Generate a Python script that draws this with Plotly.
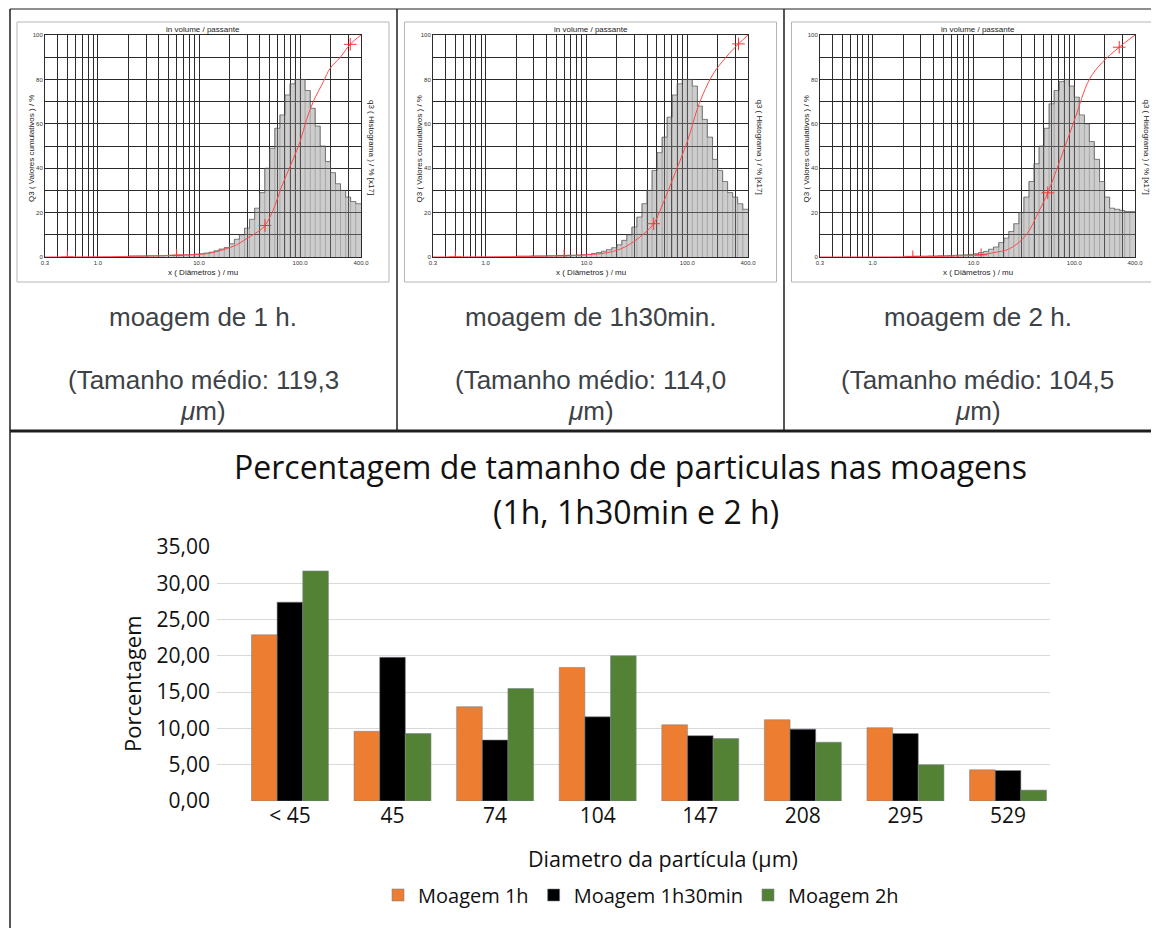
import plotly.graph_objects as go

W, H = 1159, 928
PAGE_OFF = 8            # the page body margin shifts the figure by 8 px
FW, FH = W - PAGE_OFF, H - PAGE_OFF

# ---------------- data: top particle-size panels ----------------
GRID_X = [0.3, 0.4, 0.5, 0.6, 0.7, 0.8, 0.9, 1, 2, 3, 4, 5, 6, 7, 8, 9,
          10, 20, 30, 40, 50, 60, 70, 80, 90, 100, 200, 300, 400]
X_TICK_LABELS = {0.3: "0.3", 1: "1.0", 10: "10.0", 100: "100.0", 400: "400.0"}
GRID_Y = [0, 10, 20, 30, 40, 50, 60, 70, 80, 90, 100]
Y_TICK_LABELS = {0: "0", 20: "20", 40: "40", 60: "60", 80: "80", 100: "100"}

BIN_EDGES = [2.0, 2.24, 2.51, 2.82, 3.16, 3.55, 3.98, 4.47, 5.01, 5.62, 6.31, 7.08,
             7.94, 8.91, 10.0, 11.2, 12.6, 14.1, 15.8, 17.8, 20.0, 22.4, 25.1, 28.2,
             31.6, 35.5, 39.8, 44.7, 50.1, 56.2, 63.1, 70.8, 79.4, 89.1, 100, 112,
             126, 141, 158, 178, 200, 224, 251, 282, 316, 355, 400]

HIST_1H = [0.5, 0.5, 0.5, 0.5, 0.6, 0.6, 0.6, 0.7, 0.7, 0.8, 0.9, 1.0, 1.1, 1.3,
           1.5, 1.8, 2.2, 2.8, 3.6, 4.3, 6.0, 8.0, 10.0, 13.0, 17.0, 22.0, 29.0, 40.0,
           49.0, 58.0, 64.0, 73.0, 78.0, 80.0, 80.0, 75.0, 67.0, 59.0, 50.0, 43.0,
           38.0, 33.0, 30.0, 27.0, 25.0, 24.0]
HIST_1H30 = [0.4, 0.4, 0.4, 0.5, 0.5, 0.5, 0.6, 0.6, 0.7, 0.7, 0.8, 0.8, 0.9, 1.0,
             1.2, 1.6, 2.0, 2.6, 3.3, 4.2, 5.5, 7.5, 10.0, 13.5, 18.0, 24.0, 30.0, 39.0,
             47.0, 54.0, 63.0, 73.0, 78.0, 80.0, 80.0, 77.0, 68.0, 62.0, 54.0, 44.0,
             39.0, 34.0, 29.0, 27.0, 24.0, 21.5]
HIST_2H = [0.3, 0.3, 0.4, 0.4, 0.4, 0.5, 0.5, 0.6, 0.6, 0.7, 0.8, 0.9, 1.0, 1.2,
           1.5, 2.0, 2.5, 3.5, 4.5, 6.5, 8.5, 11.5, 15.0, 20.0, 27.0, 34.0, 42.0, 50.0,
           58.0, 69.0, 75.0, 79.0, 80.0, 77.0, 72.0, 64.0, 60.0, 52.0, 44.0, 34.0,
           27.0, 22.0, 21.5, 21.0, 20.5, 20.5]

CUM_1H_X = [0.3, 1.0, 3.0, 6.0, 10, 13, 17.5, 23.6, 30, 40, 45, 54, 66, 80, 100, 116,
            135, 170, 198, 250, 313, 400]
CUM_1H_Y = [0, 0.1, 0.4, 0.8, 1.2, 1.8, 3.3, 5.5, 8.5, 12, 14.2, 21, 32, 41, 52, 62,
            70, 79, 85, 90, 95.8, 100]
CUM_1H30_X = [0.3, 1.0, 3.0, 6.0, 10, 16.4, 24, 35.4, 46.4, 56, 76, 100, 131, 178,
              242, 322, 400]
CUM_1H30_Y = [0, 0.1, 0.3, 0.6, 1.0, 2.0, 4.5, 9.7, 15, 23, 38, 52, 69, 82, 90, 96, 100]
CUM_2H_X = [0.3, 2.5, 6.0, 11.9, 16, 22.7, 33, 45, 54.5, 71, 100, 141, 190, 279, 400]
CUM_2H_Y = [0, 0.1, 0.4, 1.0, 2.0, 3.7, 9.7, 21, 28.9, 42.7, 61.5, 80, 87.7, 94.5, 100]

MARK_1H_X = [0.5, 6.0, 45, 313]
MARK_1H_Y = [0, 0.8, 14.2, 95.8]
MARK_1H30_X = [0.5, 6.0, 46.4, 322]
MARK_1H30_Y = [0, 0.6, 15, 96]
MARK_2H_X = [2.5, 11.9, 54.5, 279]
MARK_2H_Y = [0.1, 1.0, 28.9, 94.5]

CAPTIONS = [("moagem de 1 h.", "(Tamanho médio: 119,3"),
            ("moagem de 1h30min.", "(Tamanho médio: 114,0"),
            ("moagem de 2 h.", "(Tamanho médio: 104,5")]

# ---------------- data: bottom bar chart ----------------
CATEGORIES = ["< 45", "45", "74", "104", "147", "208", "295", "529"]
MOAGEM_1H = [22.9, 9.6, 13.0, 18.4, 10.5, 11.2, 10.1, 4.3]
MOAGEM_1H30 = [27.4, 19.8, 8.4, 11.6, 9.0, 9.9, 9.3, 4.2]
MOAGEM_2H = [31.7, 9.3, 15.5, 20.0, 8.6, 8.1, 5.0, 1.5]
BAR_Y_TICKS = [0, 5, 10, 15, 20, 25, 30, 35]


def fx(px):
    return (px - PAGE_OFF) / FW


def fy(py):
    return 1 - (py - PAGE_OFF) / FH


fig = go.Figure()

panels = [
    (HIST_1H, CUM_1H_X, CUM_1H_Y, MARK_1H_X, MARK_1H_Y),
    (HIST_1H30, CUM_1H30_X, CUM_1H30_Y, MARK_1H30_X, MARK_1H30_Y),
    (HIST_2H, CUM_2H_X, CUM_2H_Y, MARK_2H_X, MARK_2H_Y),
]
plot_left = [45, 433, 820]
plot_right = [361, 748, 1135]
offsets = [0, 387.5, 774.5]

shapes = []
annotations = []
font_small = "Liberation Sans, Arial, sans-serif"

for i, (hist, cx, cy, mx, my) in enumerate(panels):
    k = i + 1
    xa = "x" if k == 1 else f"x{k}"
    ya = "y" if k == 1 else f"y{k}"
    # histogram as step outline filled to zero
    fig.add_trace(go.Scatter(
        x=BIN_EDGES, y=hist + [hist[-1]], mode="lines", line_shape="hv",
        fill="tozeroy", fillcolor="rgba(135,135,135,0.42)",
        line=dict(color="rgba(70,70,70,0.8)", width=0.8),
        xaxis=xa, yaxis=ya, showlegend=False, hoverinfo="skip"))
    # bar separators
    sx, sy = [], []
    for j in range(1, len(hist)):
        sx += [BIN_EDGES[j], BIN_EDGES[j], None]
        sy += [0, max(hist[j - 1], hist[j]), None]
    fig.add_trace(go.Scatter(
        x=sx, y=sy, mode="lines", line=dict(color="rgba(90,90,90,0.55)", width=0.6),
        xaxis=xa, yaxis=ya, showlegend=False, hoverinfo="skip"))
    # cumulative curve
    fig.add_trace(go.Scatter(
        x=cx, y=cy, mode="lines", line=dict(color="#ff4a4a", width=1, shape="spline"),
        xaxis=xa, yaxis=ya, showlegend=False, hoverinfo="skip"))
    fig.add_trace(go.Scatter(
        x=mx, y=my, mode="markers",
        marker=dict(symbol="cross-thin", size=9, line=dict(color="#ff3030", width=1)),
        xaxis=xa, yaxis=ya, showlegend=False, hoverinfo="skip"))

    axis_common = dict(showgrid=True, gridcolor="#2b2b2b", gridwidth=1,
                       showline=True, linecolor="#2b2b2b", linewidth=1, mirror=True,
                       zeroline=False, ticks="", automargin=False,
                       tickfont=dict(family=font_small, size=6, color="#333"))
    fig.update_layout(**{
        ("xaxis" if k == 1 else f"xaxis{k}"): dict(
            type="log", range=[-0.5229, 2.6021],
            domain=[fx(plot_left[i]), fx(plot_right[i])],
            tickvals=GRID_X, ticktext=[X_TICK_LABELS.get(v, "") for v in GRID_X],
            anchor=ya, **axis_common),
        ("yaxis" if k == 1 else f"yaxis{k}"): dict(
            range=[0, 100], domain=[fy(257), fy(35)],
            tickvals=GRID_Y, ticktext=[Y_TICK_LABELS.get(v, "") for v in GRID_Y],
            anchor=xa, **axis_common),
    })

    dx = offsets[i]
    # chart frame
    shapes.append(dict(type="rect", xref="paper", yref="paper",
                       x0=fx(17 + dx), x1=fx(389 + dx), y0=fy(282), y1=fy(22),
                       line=dict(color="#b5b5b5", width=1), layer="below"))
    small = dict(family=font_small, size=8, color="#222")
    annotations += [
        dict(text="in volume / passante", x=fx(203 + dx), y=fy(29), xref="paper", yref="paper",
             showarrow=False, font=small, xanchor="center", yanchor="middle"),
        dict(text="x ( Diâmetros ) / mu", x=fx(203 + dx), y=fy(272), xref="paper", yref="paper",
             showarrow=False, font=small, xanchor="center", yanchor="middle"),
        dict(text="Q3 ( Valores cumulativos ) / %", x=fx(32 + dx), y=fy(149), xref="paper",
             yref="paper", showarrow=False, font=small, textangle=-90,
             xanchor="center", yanchor="middle"),
        dict(text="q3 ( Histograma ) / % [x17]", x=fx(371 + dx), y=fy(147), xref="paper",
             yref="paper", showarrow=False, font=small, textangle=90,
             xanchor="center", yanchor="middle"),
    ]
    cap_font = dict(family="Liberation Sans, Arial, sans-serif", size=26, color="#3d4247")
    l1, l2 = CAPTIONS[i]
    cxp = 203 + dx
    annotations += [
        dict(text=l1, x=fx(cxp), y=fy(317), xref="paper", yref="paper", showarrow=False,
             font=cap_font, xanchor="center", yanchor="middle"),
        dict(text=l2, x=fx(cxp), y=fy(380), xref="paper", yref="paper", showarrow=False,
             font=cap_font, xanchor="center", yanchor="middle"),
        dict(text="<i>μ</i>m)", x=fx(cxp), y=fy(411), xref="paper", yref="paper",
             showarrow=False, font=cap_font, xanchor="center", yanchor="middle"),
    ]

# table borders
tcol = "#1e1e1e"
for x0, y0, x1, y1, w in [
    (10, 9, 10, H, 1.5), (397, 9, 397, 431, 1.5), (784, 9, 784, 431, 1.5),
    (10, 9, W, 9, 1), (10, 431, W, 431, 3),
]:
    shapes.append(dict(type="line", xref="paper", yref="paper", x0=fx(x0), x1=fx(x1),
                       y0=fy(y0), y1=fy(y1), line=dict(color=tcol, width=w)))

# ---------------- bottom bar chart ----------------
bar_font = "Open Sans, Noto Sans, sans-serif"
outline = dict(color="rgba(120,130,140,0.7)", width=0.8)
fig.add_trace(go.Bar(x=CATEGORIES, y=MOAGEM_1H, name="Moagem 1h", marker=dict(color="#ed7d31", line=outline),
                     xaxis="x4", yaxis="y4"))
fig.add_trace(go.Bar(x=CATEGORIES, y=MOAGEM_1H30, name="Moagem 1h30min", marker=dict(color="#000000", line=outline),
                     xaxis="x4", yaxis="y4"))
fig.add_trace(go.Bar(x=CATEGORIES, y=MOAGEM_2H, name="Moagem 2h", marker=dict(color="#548235", line=outline),
                     xaxis="x4", yaxis="y4"))

fig.update_layout(
    xaxis4=dict(type="category", domain=[fx(217), fx(1050)], range=[-0.711, 7.409],
                anchor="y4", showgrid=False, showline=False, zeroline=False, ticks="",
                automargin=False,
                tickfont=dict(family=bar_font, size=21, color="#111")),
    yaxis4=dict(domain=[fy(801), fy(547)], range=[0, 35], anchor="x4",
                tickvals=BAR_Y_TICKS, tickformat=".2f", automargin=False,
                showgrid=True, gridcolor="#d9d9d9", gridwidth=1, zeroline=False,
                showline=False, ticks="", ticklabelstandoff=6,
                tickfont=dict(family=bar_font, size=21, color="#111")),
    barmode="group", bargap=0.25, bargroupgap=0,
)

annotations += [
    dict(text="Percentagem de tamanho de particulas nas moagens", x=fx(630), y=fy(466),
         xref="paper", yref="paper", showarrow=False,
         font=dict(family=bar_font, size=32, color="#111"), xanchor="center", yanchor="middle"),
    dict(text="(1h, 1h30min e 2 h)", x=fx(636), y=fy(512),
         xref="paper", yref="paper", showarrow=False,
         font=dict(family=bar_font, size=32, color="#111"), xanchor="center", yanchor="middle"),
    dict(text="Porcentagem", x=fx(132), y=fy(684), xref="paper", yref="paper",
         showarrow=False, textangle=-90,
         font=dict(family=bar_font, size=22, color="#111"), xanchor="center", yanchor="middle"),
    dict(text="Diametro da partícula (µm)", x=fx(663), y=fy(858), xref="paper", yref="paper",
         showarrow=False, font=dict(family=bar_font, size=21.5, color="#111"),
         xanchor="center", yanchor="middle"),
]

fig.update_layout(
    width=FW, height=FH,
    margin=dict(l=0, r=0, t=0, b=0, pad=0, autoexpand=False),
    paper_bgcolor="white", plot_bgcolor="white",
    separators=",.",
    showlegend=True,
    legend=dict(orientation="h", x=fx(641), y=fy(895), xanchor="center", yanchor="middle",
                font=dict(family=bar_font, size=20, color="#111"),
                bgcolor="rgba(0,0,0,0)", itemwidth=30, tracegroupgap=0),
    shapes=shapes,
    annotations=annotations,
)

fig.write_html("out.html")
